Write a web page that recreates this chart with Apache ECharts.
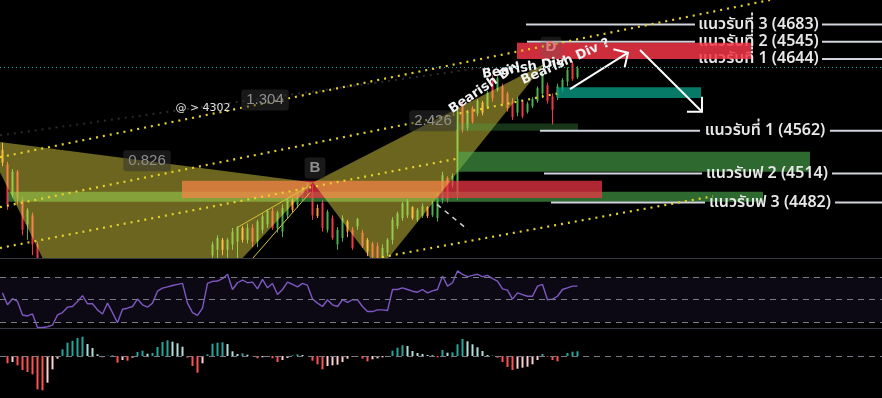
<!DOCTYPE html>
<html>
<head>
<meta charset="utf-8">
<script src="https://cdn.jsdelivr.net/npm/echarts/dist/echarts.min.js"></script>
<style>
  html, body { margin: 0; padding: 0; background: #000; }
  #chart { width: 882px; height: 398px; }
</style>
</head>
<body>
<div id="chart"></div>
<script>
// candles: [open, close, low, high]
const candles = [
  [4540,4526,4522,4548],[4524,4480,4474,4527],[4490,4516,4487,4519],[4516,4487,4480,4518],[4485,4452,4446,4488],
  [4458,4474,4441,4476],[4468,4436,4424,4471],[4436,4402,4397,4439],[4402,4380,4375,4406],[4380,4370,4364,4384],
  [4370,4375,4364,4378],[4375,4386,4371,4389],[4386,4392,4382,4395],[4392,4397,4387,4400],[4397,4394,4388,4401],
  [4394,4402,4389,4406],[4402,4408,4398,4412],[4408,4395,4390,4411],[4395,4392,4386,4398],[4392,4384,4379,4395],
  [4384,4377,4373,4387],[4377,4388,4374,4392],[4388,4375,4371,4392],[4375,4362,4357,4378],[4362,4373,4358,4376],
  [4373,4375,4368,4378],[4375,4378,4372,4382],[4378,4388,4375,4392],[4388,4384,4379,4392],[4384,4380,4376,4387],
  [4380,4386,4377,4389],[4386,4397,4383,4400],[4397,4401,4393,4405],[4401,4406,4397,4409],[4406,4408,4401,4411],
  [4408,4412,4404,4416],[4412,4417,4408,4419],[4417,4402,4398,4419],[4402,4388,4384,4406],[4388,4384,4379,4392],
  [4384,4395,4380,4398],[4395,4417,4392,4419],[4424,4436,4417,4439],[4430,4443,4421,4446],[4441,4430,4424,4443],
  [4430,4441,4421,4443],[4436,4450,4430,4454],[4439,4455,4421,4456],[4454,4441,4438,4456],[4441,4454,4437,4459],
  [4454,4439,4433,4458],[4439,4461,4433,4463],[4452,4467,4448,4470],[4458,4473,4454,4475],[4473,4454,4452,4476],
  [4454,4471,4449,4473],[4450,4476,4444,4480],[4468,4485,4465,4487],[4485,4474,4471,4487],[4480,4494,4476,4496],
  [4487,4498,4484,4500],[4494,4502,4489,4504],[4494,4468,4463,4502],[4476,4467,4465,4480],[4482,4454,4450,4485],
  [4452,4472,4449,4474],[4465,4443,4441,4468],[4436,4452,4430,4455],[4443,4465,4439,4468],[4461,4450,4444,4463],
  [4452,4432,4430,4455],[4456,4464,4452,4465],[4449,4434,4432,4452],[4441,4428,4423,4443],[4437,4422,4417,4439],
  [4434,4417,4412,4438],[4417,4432,4412,4436],[4427,4441,4423,4443],[4441,4463,4436,4466],[4456,4470,4453,4472],
  [4465,4481,4462,4483],[4468,4484,4465,4486],[4477,4465,4463,4478],[4463,4474,4461,4476],[4467,4478,4465,4481],
  [4477,4467,4465,4478],[4468,4482,4466,4484],[4465,4492,4461,4494],[4485,4512,4481,4516],[4509,4485,4482,4511],
  [4501,4511,4498,4514],[4490,4582,4485,4586],[4590,4562,4559,4593],[4564,4582,4561,4584],[4586,4571,4569,4588],
  [4580,4594,4577,4596],[4592,4581,4578,4594],[4587,4603,4585,4605],[4619,4597,4593,4622],[4606,4619,4604,4621],
  [4610,4591,4588,4613],[4602,4586,4582,4604],[4593,4576,4573,4597],[4581,4596,4577,4598],[4593,4577,4575,4595],
  [4582,4591,4580,4593],[4588,4596,4586,4598],[4594,4608,4592,4610],[4602,4622,4597,4626],[4611,4594,4591,4614],
  [4599,4584,4568,4602],[4598,4610,4595,4613],[4606,4617,4603,4619],[4615,4628,4610,4631],[4635,4618,4616,4637],
  [4620,4630,4618,4632]
];

const rsi = [
  55.9,45.3,50.7,48.3,36.3,35.4,37.2,25.2,25.2,25.8,
  27.3,36.3,38.4,43.2,43.8,48.3,53.5,46.2,46.2,40.8,
  37.2,46.8,38.4,29.4,41.4,42.3,43.8,50.4,45.3,43.2,
  46.8,57.4,60.1,61.3,62.5,63.4,64.3,46.8,38.4,36.0,
  42.3,64.3,66.1,66.4,68.5,72.4,58.9,64.9,67.3,64.9,
  65.5,59.5,67.9,60.4,64.3,54.4,58.9,65.5,63.4,61.3,
  64.3,62.5,50.4,46.8,43.8,49.8,45.3,43.8,49.8,47.4,
  49.8,49.8,43.8,39.3,39.3,40.8,40.8,40.2,58.9,58.9,
  60.4,58.9,57.4,56.5,58.9,55.9,57.7,58.9,70.9,61.9,
  64.9,75.4,72.4,70.3,71.5,72.4,70.3,71.5,68.5,66.4,
  59.5,58.3,50.4,55.9,54.4,52.9,52.9,61.9,63.4,49.8,
  50.4,52.9,58.9,60.4,61.9,61.9
];

const macdHist = [
  -1,-7.3,-6,-9.3,-14,-16,-18.3,-33.3,-34.3,-26.7,
  -13.3,-2.7,6.7,13.3,15.3,18,19.3,12,8,1.7,
  -1.3,0.3,0.7,-6.7,-4,-4.7,-1.7,4,5.3,2.3,
  3,9,14,15.7,14.3,12.7,9.3,-1.7,-10,-16.7,
  -7.3,1.7,12.3,13.3,13.7,12,4.7,2,2.7,1.3,
  -0.3,-2.3,-1.3,-0.7,-2.3,-6,-4,-2,0.7,1.7,
  1,0,-4.7,-8.3,-13.3,-10,-9.3,-8.7,-6,-2.7,
  -0.7,-0.7,-2.7,-5.3,-3.3,-2.3,-1.3,-0.3,5.3,8.3,
  10.7,10,5,3,2,1,0.7,-1.3,6,3.3,
  3.7,11.7,17,14.7,11.7,8.7,5,1,0.3,-1.7,
  -6,-11,-14,-12.7,-11.7,-10.7,-8.3,-4,2,-0.7,
  -4,-5.3,0,3,4.3,4.7
];

// harmonic pattern points X, A, B, C, D (bar index, price)
const patternBar = [-3.7, 21.9, 62.1, 75.3, 108.5];
const patternPrice = [4551, 4267, 4504, 4408, 4635];

// zones (bar index / price)
const zoneStart = [1.1, 35.9, 91.1, 91.1, 110.9, 102.9];
const zoneEnd = [152.1, 119.9, 161.5, 115.1, 139.7, 149.7];
const zoneHigh = [4494, 4506, 4538, 4569, 4609, 4658];
const zoneLow = [4483, 4487, 4516, 4561, 4597, 4640];

// dotted channel lines
const chanBar1 = [-0.5, -0.5, -0.5, 75.9];
const chanPrice1 = [4532, 4477, 4432, 4422];
const chanBar2 = [153.5, 110.9, 91.5, 142.1];
const chanPrice2 = [4705, 4602, 4531, 4489];

// small trend lines near B, dashed projection, arrows
const wedgeBar1 = [47.1, 50.1], wedgePrice1 = [4455, 4421];
const wedgeBar2 = [60.9, 61.5], wedgePrice2 = [4499, 4493];
const arrowBar1 = [113.5, 127.5], arrowPrice1 = [4607, 4650];
const arrowBar2 = [125.1, 139.9], arrowPrice2 = [4647, 4582];

// support levels
const levelPrice = [4678, 4659, 4640, 4561, 4514, 4482];
const levelLabel = [
  'แนวรับที่ 3 (4683)', 'แนวรับที่ 2 (4545)', 'แนวรับที่ 1 (4644)',
  'แนวรับที่ 1 (4562)', 'แนวรับฟ 2 (4514)', 'แนวรับฟ 3 (4482)'
];
const lastPrice = 4631;

// text labels
const fibText = ['0.826', '1.304', '2.426', 'B', 'D'];
const fibBar = [28.9, 52.5, 86.1, 62.5, 109.7];
const fibPrice = [4528, 4595, 4572, 4520, 4653];
const divText = ['Bearish Div', 'Bearish Div', 'Bearish Div ?'];
const divBar = [96.5, 104.2, 112.6];
const divPrice = [4609, 4630, 4637];

// layout of level lines (bar index where segments start / break)
const levelStart = [104.7, 104.9, 138.5, 107.5, 108.3, 109.7];
const levelGapL = [138.5, 138.5, 138.5, 139.5, 139.9, 140.5];
const levelGapR = [163.9, 163.9, 163.9, 165.5, 165.9, 166.5];
const divAngle = [34, 9, 24];
const zoneColor = ['rgba(76,175,80,0.6)', 'rgba(242,54,69,0.72)', 'rgba(76,175,80,0.6)',
  'rgba(76,175,80,0.3)', 'rgba(8,153,129,0.8)', 'rgba(242,54,69,0.85)'];

const X_MIN = -0.5, X_MAX = 175.9;
const thaiFont = '"Noto Sans Thai", "Leelawadee UI", Tahoma, "DejaVu Sans", sans-serif';

const chart = echarts.init(document.getElementById('chart'));

function xAxis (gridIndex, line) {
  return {
    type: 'value', gridIndex, min: X_MIN, max: X_MAX,
    axisLabel: {show: false}, axisTick: {show: false}, splitLine: {show: false},
    axisLine: {show: line, onZero: false, lineStyle: {color: '#363a45'}}
  };
}
function yAxis (gridIndex, min, max) {
  return {type: 'value', gridIndex, min, max, show: false, splitLine: {show: false}};
}

function zoneSeries (ids) {
  return {
    type: 'custom', clip: true, silent: true,
    data: ids.map(k => [zoneStart[k], zoneHigh[k], zoneEnd[k], zoneLow[k], k]),
    renderItem (params, api) {
      const p1 = api.coord([api.value(0), api.value(1)]);
      const p2 = api.coord([api.value(2), api.value(3)]);
      return {
        type: 'rect',
        shape: {x: p1[0], y: p1[1], width: p2[0] - p1[0], height: p2[1] - p1[1]},
        style: {fill: zoneColor[api.value(4)]}
      };
    }
  };
}

function segmentSeries (data, style) {
  return {
    type: 'custom', clip: true, silent: true, data,
    renderItem (params, api) {
      const p1 = api.coord([api.value(0), api.value(1)]);
      const p2 = api.coord([api.value(2), api.value(3)]);
      return {type: 'line', shape: {x1: p1[0], y1: p1[1], x2: p2[0], y2: p2[1]}, style};
    }
  };
}

const macdColor = (v, i) => {
  const prev = i > 0 ? macdHist[i - 1] : 0;
  if (v >= 0) return v >= prev ? '#26a69a' : '#b2dfdb';
  return v <= prev ? '#ff5252' : '#ffcdd2';
};

const option = {
  backgroundColor: '#000',
  animation: false,
  grid: [
    {left: 0, right: 0, top: 0, height: 258},
    {left: 0, right: 0, top: 259, height: 69},
    {left: 0, right: 0, top: 330, height: 68}
  ],
  xAxis: [xAxis(0, true), xAxis(1, true), xAxis(2, false)],
  yAxis: [yAxis(0, 4421, 4705), yAxis(1, 24.7, 86), yAxis(2, -42, 26)],
  series: [
    {
      name: 'price', type: 'custom', clip: true,
      data: candles.map((c, i) => [i, c[0], c[1], c[2], c[3]]),
      encode: {x: 0, y: [1, 2, 3, 4]},
      renderItem (params, api) {
        const i = api.value(0), o = api.value(1), c = api.value(2), l = api.value(3), h = api.value(4);
        const pH = api.coord([i, h]), pL = api.coord([i, l]);
        const pO = api.coord([i, o]), pC = api.coord([i, c]);
        const color = c >= o ? '#4caf50' : (o - c > 14 ? '#f23645' : '#ff9a3c');
        return {
          type: 'group',
          children: [
            {type: 'line', shape: {x1: pH[0], y1: pH[1], x2: pL[0], y2: pL[1]}, style: {stroke: color, lineWidth: 1}},
            {type: 'rect', shape: {x: pO[0] - 1, y: Math.min(pO[1], pC[1]), width: 2, height: Math.max(1, Math.abs(pO[1] - pC[1]))}, style: {fill: color}}
          ]
        };
      },
      markLine: {
        silent: true, symbol: 'none', label: {show: false},
        lineStyle: {color: '#26a69a', type: [1, 3], width: 1},
        data: [{yAxis: lastPrice}]
      }
    },
    zoneSeries([0, 1]),
    {
      type: 'custom', clip: true, silent: true,
      data: [[0, 1, 2], [2, 3, 4]].map(t => t.flatMap(k => [patternBar[k], patternPrice[k]])),
      renderItem (params, api) {
        const pts = [0, 1, 2].map(k => api.coord([api.value(2 * k), api.value(2 * k + 1)]));
        return {type: 'polygon', shape: {points: pts}, style: {fill: 'rgba(255,240,75,0.42)'}};
      }
    },
    zoneSeries([2, 3, 4]),
    segmentSeries(wedgeBar1.map((b, k) => [b, wedgePrice1[k], wedgeBar2[k], wedgePrice2[k]]),
      {stroke: '#d9c33a', lineWidth: 1}),
    segmentSeries([[86.9, 4480, 93.1, 4452]], {stroke: '#cfcfcf', lineWidth: 1.5, lineDash: [5, 5]}),
    {
      type: 'custom', clip: true, silent: true,
      data: levelPrice.map((p, k) => [p, k]),
      renderItem (params, api) {
        const k = api.value(1), p = api.value(0);
        const a = api.coord([levelStart[k], p]), b = api.coord([levelGapL[k], p]);
        const c = api.coord([levelGapR[k], p]), d = api.coord([X_MAX, p]);
        const ls = {stroke: '#d1d4dc', lineWidth: 2};
        return {
          type: 'group',
          children: [
            {type: 'line', shape: {x1: a[0], y1: a[1], x2: b[0], y2: b[1]}, style: ls},
            {type: 'line', shape: {x1: c[0], y1: c[1], x2: d[0], y2: d[1]}, style: ls},
            {type: 'text', x: (b[0] + c[0]) / 2, y: b[1] + 1,
              style: {text: levelLabel[k], fill: '#e8e8e8', font: '600 16px ' + thaiFont, align: 'center', verticalAlign: 'middle'}}
          ]
        };
      }
    },
    zoneSeries([5]),
    segmentSeries(chanBar1.map((b, k) => [b, chanPrice1[k], chanBar2[k], chanPrice2[k]]),
      {stroke: '#e6d22e', lineWidth: 2.2, lineDash: [2, 5], lineCap: 'butt'}),
    segmentSeries([[-0.5, 4556, 95.5, 4630]], {stroke: '#2a2a2a', lineWidth: 2, lineDash: [2, 5]}),
    {
      type: 'custom', clip: true, silent: true,
      data: arrowBar1.map((b, k) => [b, arrowPrice1[k], arrowBar2[k], arrowPrice2[k]]),
      renderItem (params, api) {
        const p1 = api.coord([api.value(0), api.value(1)]);
        const p2 = api.coord([api.value(2), api.value(3)]);
        const ang = Math.atan2(p2[1] - p1[1], p2[0] - p1[0]) + Math.PI;
        const arm = d => [p2[0] + 15 * Math.cos(ang + d), p2[1] + 15 * Math.sin(ang + d)];
        const h1 = arm(Math.PI / 4), h2 = arm(-Math.PI / 4);
        const st = {stroke: '#ffffff', lineWidth: 2};
        return {
          type: 'group',
          children: [
            {type: 'line', shape: {x1: p1[0], y1: p1[1], x2: p2[0], y2: p2[1]}, style: st},
            {type: 'polyline', shape: {points: [h1, p2, h2]}, style: {stroke: '#ffffff', lineWidth: 2, fill: null}}
          ]
        };
      }
    },
    {
      type: 'custom', clip: true, silent: true,
      data: fibText.map((t, k) => [fibBar[k], fibPrice[k], k]),
      renderItem (params, api) {
        const k = api.value(2);
        const p = api.coord([api.value(0), api.value(1)]);
        const isD = fibText[k] === 'D';
        return {
          type: 'text', x: p[0], y: p[1],
          style: {
            text: fibText[k], fill: isD ? '#e0808a' : '#8f8f8f',
            font: (fibText[k].length === 1 ? 'bold 15px ' : '15px ') + '"Liberation Sans", Arial, sans-serif',
            align: 'center', verticalAlign: 'middle',
            backgroundColor: isD ? 'rgba(90,90,90,0.25)' : 'rgba(50,50,50,0.5)',
            padding: [3, 5], borderRadius: 3
          }
        };
      }
    },
    {
      type: 'custom', clip: true, silent: true,
      data: divText.map((t, k) => [divBar[k], divPrice[k], k]),
      renderItem (params, api) {
        const k = api.value(2);
        const p = api.coord([api.value(0), api.value(1)]);
        return {
          type: 'text', x: p[0], y: p[1], rotation: divAngle[k] * Math.PI / 180,
          style: {text: divText[k], fill: '#f2f2f2', font: 'bold 13px "DejaVu Sans", sans-serif', align: 'center', verticalAlign: 'middle'}
        };
      }
    },
    {
      type: 'custom', silent: true,
      data: [[40.1, 4586]],
      renderItem (params, api) {
        const p = api.coord([api.value(0), api.value(1)]);
        return {type: 'text', x: p[0], y: p[1], style: {text: '@ > 4302', fill: '#e0e0e0', font: '11px "DejaVu Sans", sans-serif', align: 'center', verticalAlign: 'middle'}};
      }
    },
    {
      name: 'RSI', type: 'line', xAxisIndex: 1, yAxisIndex: 1,
      data: rsi.map((v, i) => [i, v]),
      symbol: 'none', lineStyle: {color: '#7e57c2', width: 1.4},
      markArea: {silent: true, itemStyle: {color: 'rgba(126,87,194,0.1)'}, data: [[{yAxis: 30}, {yAxis: 70}]]},
      markLine: {
        silent: true, symbol: 'none', label: {show: false},
        lineStyle: {color: '#787b86', type: [6, 5], width: 1},
        data: [{yAxis: 70}, {yAxis: 50}, {yAxis: 30}]
      }
    },
    {
      name: 'MACD', type: 'bar', xAxisIndex: 2, yAxisIndex: 2,
      data: macdHist.map((v, i) => [i, v]),
      barWidth: 2,
      itemStyle: {color: params => macdColor(macdHist[params.dataIndex], params.dataIndex)},
      markLine: {
        silent: true, symbol: 'none', label: {show: false},
        lineStyle: {color: '#787b86', type: [6, 5], width: 1},
        data: [{yAxis: 0}]
      }
    }
  ]
};

chart.setOption(option);
</script>
</body>
</html>
